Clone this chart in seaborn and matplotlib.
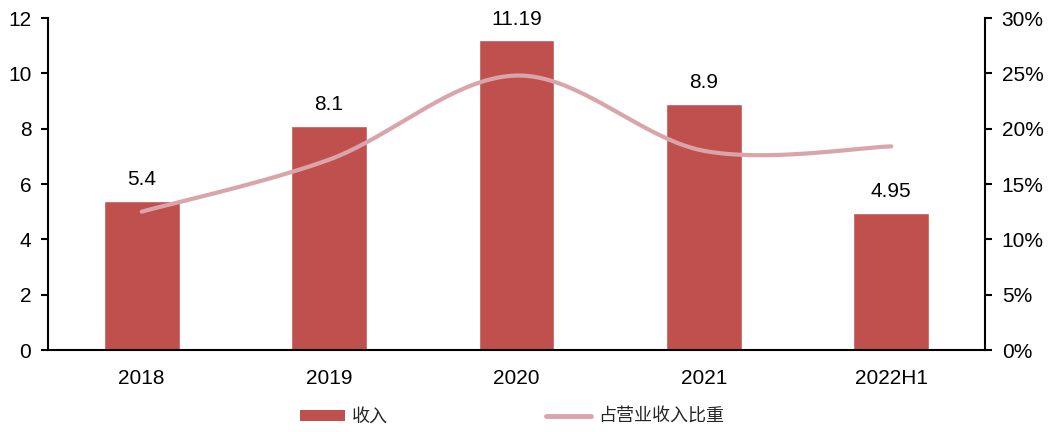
import numpy as np
import pandas as pd
import matplotlib
matplotlib.use("Agg")
import matplotlib.pyplot as plt
from matplotlib.patches import Patch
from matplotlib.lines import Line2D
from matplotlib.ticker import FuncFormatter, MultipleLocator
import seaborn as sns

# Data
categories = ["2018", "2019", "2020", "2021", "2022H1"]
revenue = [5.4, 8.1, 11.19, 8.9, 4.95]            # 收入
share_pct = [12.5, 17.2, 24.8, 18.0, 18.4]        # 占营业收入比重 (%)
revenue_labels = ["5.4", "8.1", "11.19", "8.9", "4.95"]

BAR_COLOR = "#C0504D"
LINE_COLOR = "#D9A5AB"

sns.set_theme(style="white")
plt.rcParams["font.family"] = ["Liberation Sans", "Noto Sans CJK SC", "DejaVu Sans"]


def smooth_curve(xs, ys, steps=40):
    """Bezier smoothing through every point (Catmull-Rom style tangents)."""
    pts = np.column_stack([xs, ys]).astype(float)
    n = len(pts)
    out = []
    for i in range(n - 1):
        p0 = pts[i - 1] if i > 0 else pts[i]
        p1 = pts[i]
        p2 = pts[i + 1]
        p3 = pts[i + 2] if i + 2 < n else pts[i + 1]
        c1 = p1 + (p2 - p0) / 6.0
        c2 = p2 - (p3 - p1) / 6.0
        t = np.linspace(0, 1, steps, endpoint=(i == n - 2))[:, None]
        seg = ((1 - t) ** 3) * p1 + 3 * ((1 - t) ** 2) * t * c1 + 3 * (1 - t) * t ** 2 * c2 + t ** 3 * p2
        out.append(seg)
    out = np.vstack(out)
    return out[:, 0], out[:, 1]


fig = plt.figure(figsize=(10.49, 4.32), dpi=100)
ax = fig.add_axes([48 / 1049, 1 - 350 / 432, (985 - 48) / 1049, (350 - 18) / 432])

df = pd.DataFrame({"year": categories, "revenue": revenue})
sns.barplot(data=df, x="year", y="revenue", color=BAR_COLOR, saturation=1,
            width=0.405, ax=ax, zorder=2)

ax.set_ylim(0, 12)
ax.set_xlim(-0.5, len(categories) - 0.5)
ax.yaxis.set_major_locator(MultipleLocator(2))
ax.set_xlabel("")
ax.set_ylabel("")

for i, (v, lab) in enumerate(zip(revenue, revenue_labels)):
    ax.text(i, v + 0.42, lab, ha="center", va="bottom", fontsize=15, color="black")

# Secondary axis: share of operating revenue
ax2 = ax.twinx()
sx, sy = smooth_curve(np.arange(len(categories)), share_pct)
sns.lineplot(x=sx, y=sy, sort=False, estimator=None, color=LINE_COLOR,
             linewidth=3, ax=ax2, zorder=3)
ax2.set_ylim(0, 30)
ax2.set_xlim(-0.5, len(categories) - 0.5)
ax2.yaxis.set_major_locator(MultipleLocator(5))
ax2.yaxis.set_major_formatter(FuncFormatter(lambda v, _: f"{v:.0f}%"))
ax2.set_ylabel("")

# Spines and ticks
for a in (ax, ax2):
    for s in a.spines.values():
        s.set_visible(False)
ax.spines["left"].set_visible(True)
ax.spines["bottom"].set_visible(True)
ax2.spines["right"].set_visible(True)
for s in (ax.spines["left"], ax.spines["bottom"], ax2.spines["right"]):
    s.set_color("black")
    s.set_linewidth(1.5)

ax.tick_params(axis="y", which="major", direction="out", length=5, width=1.5,
               color="black", labelsize=15, pad=7, left=True)
ax.tick_params(axis="x", which="major", length=0, labelsize=15, pad=14)
ax2.tick_params(axis="y", which="major", direction="out", length=5, width=1.5,
                color="black", labelsize=15, pad=7, right=True)
for lab in ax.get_yticklabels() + ax.get_xticklabels() + ax2.get_yticklabels():
    lab.set_color("black")

# Legend
handles = [
    Patch(facecolor=BAR_COLOR, edgecolor="none", label="收入"),
    Line2D([0], [0], color=LINE_COLOR, linewidth=3.5, label="占营业收入比重"),
]
fig.legend(handles=handles, loc="center", bbox_to_anchor=(0.488, 0.035), ncol=2,
           frameon=False, prop={"family": ["Noto Sans CJK SC"], "size": 13},
           handlelength=2.5, handleheight=0.6, handletextpad=0.35, columnspacing=8.8)

fig.savefig("out.png", dpi=100)
